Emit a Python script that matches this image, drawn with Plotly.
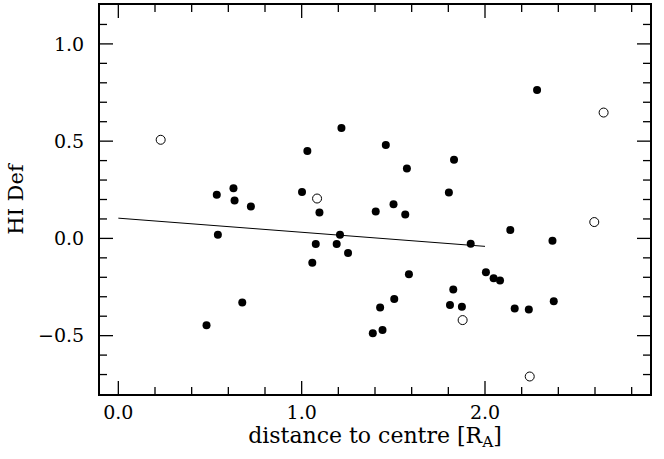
import plotly.graph_objects as go

# filled points (distance to centre [R_A], HI Def)
filled_x = [0.481, 0.537, 0.543, 0.628, 0.634, 0.676, 0.723, 1.002, 1.031, 1.058,
            1.077, 1.097, 1.191, 1.209, 1.217, 1.253, 1.388, 1.404, 1.428, 1.441,
            1.459, 1.501, 1.505, 1.565, 1.574, 1.585, 1.803, 1.809, 1.827, 1.831,
            1.874, 1.922, 2.005, 2.047, 2.082, 2.138, 2.162, 2.239, 2.284, 2.368,
            2.375]
filled_y = [-0.447, 0.224, 0.019, 0.258, 0.195, -0.329, 0.164, 0.239, 0.449, -0.125,
            -0.029, 0.133, -0.029, 0.019, 0.568, -0.075, -0.488, 0.138, -0.355, -0.471,
            0.480, 0.176, -0.311, 0.123, 0.360, -0.184, 0.236, -0.343, -0.263, 0.404,
            -0.352, -0.027, -0.174, -0.205, -0.217, 0.043, -0.360, -0.365, 0.763, -0.012,
            -0.323]

# open points
open_x = [0.231, 1.084, 1.878, 2.244, 2.596, 2.647]
open_y = [0.507, 0.205, -0.420, -0.710, 0.084, 0.647]

# fitted line
fit_x = [0.0, 2.0]
fit_y = [0.104, -0.041]

# axis ranges and tick positions
X_RANGE = [-0.1, 2.9]
Y_RANGE = [-0.8, 1.2]
x_major_ticks = [0.0, 1.0, 2.0]
x_minor_ticks = [0.2, 0.4, 0.6, 0.8, 1.2, 1.4, 1.6, 1.8, 2.2, 2.4, 2.6, 2.8]
y_major_ticks = [-0.5, 0.0, 0.5, 1.0]
y_minor_ticks = [-0.7, -0.6, -0.4, -0.3, -0.2, -0.1, 0.1, 0.2, 0.3, 0.4,
                 0.6, 0.7, 0.8, 0.9, 1.1]

FONT = "DejaVu Serif"
W, H = 664, 459
ML, MR, MT, MB = 100, 14, 3, 65
MAJOR_LEN, MINOR_LEN = 13, 7

# data units per pixel, from the axis ranges and the plot-area size
ux = (X_RANGE[1] - X_RANGE[0]) / (W - ML - MR)
uy = (Y_RANGE[1] - Y_RANGE[0]) / (H - MT - MB)


def inward_ticks(major, minor, along_x):
    xs, ys = [], []
    for vals, ln in ((major, MAJOR_LEN), (minor, MINOR_LEN)):
        for v in vals:
            if along_x:
                dy = ln * uy
                xs += [v, v, None, v, v, None]
                ys += [Y_RANGE[0], Y_RANGE[0] + dy, None, Y_RANGE[1], Y_RANGE[1] - dy, None]
            else:
                dx = ln * ux
                xs += [X_RANGE[0], X_RANGE[0] + dx, None, X_RANGE[1], X_RANGE[1] - dx, None]
                ys += [v, v, None, v, v, None]
    return xs, ys


fig = go.Figure()

for along in (True, False):
    tx, ty = (inward_ticks(x_major_ticks, x_minor_ticks, True) if along
              else inward_ticks(y_major_ticks, y_minor_ticks, False))
    fig.add_trace(go.Scatter(x=tx, y=ty, mode="lines", connectgaps=False,
                             line=dict(color="black", width=1.3), hoverinfo="skip"))

fig.add_trace(go.Scatter(x=fit_x, y=fit_y, mode="lines",
                         line=dict(color="black", width=1), hoverinfo="skip"))
fig.add_trace(go.Scatter(x=filled_x, y=filled_y, mode="markers",
                         marker=dict(symbol="circle", size=8, color="black",
                                     line=dict(width=0))))
fig.add_trace(go.Scatter(x=open_x, y=open_y, mode="markers",
                         marker=dict(symbol="circle-open", size=9, color="black",
                                     line=dict(width=1))))

axis_common = dict(
    showgrid=False, zeroline=False, showline=True, linecolor="black", linewidth=2,
    mirror=True, ticks="",
    tickfont=dict(family=FONT, size=19, color="black"), tickformat=".1f",
)

fig.update_layout(
    xaxis=dict(
        range=X_RANGE, tickvals=x_major_ticks,
        title=dict(text="distance to centre [R<sub>A</sub>]",
                   font=dict(family=FONT, size=22, color="black"), standoff=4),
        **axis_common,
    ),
    yaxis=dict(
        range=Y_RANGE, tickvals=y_major_ticks,
        ticklabelstandoff=10,
        title=dict(text="HI Def", font=dict(family=FONT, size=21, color="black"), standoff=9),
        **axis_common,
    ),
    width=W, height=H,
    margin=dict(l=ML, r=MR, t=MT, b=MB),
    plot_bgcolor="white", paper_bgcolor="white",
    showlegend=False,
)

fig.write_html("out.html", config={"displayModeBar": False},
               post_script="document.body.style.margin='0px';document.body.style.overflow='hidden';")
